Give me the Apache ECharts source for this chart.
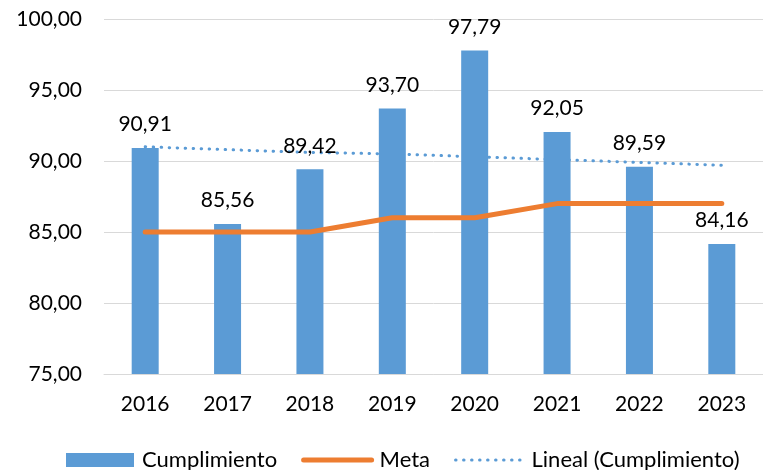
<!DOCTYPE html>
<html>
<head>
<meta charset="utf-8">
<script src="https://cdn.jsdelivr.net/npm/echarts@6/dist/echarts.min.js"></script>
<style>
  html, body { margin: 0; padding: 0; background: #fff; }
  #chart { width: 763px; height: 470px; }
</style>
</head>
<body>
<div id="chart"></div>
<script>
const years = ['2016', '2017', '2018', '2019', '2020', '2021', '2022', '2023'];
const cumplimiento = [90.91, 85.56, 89.42, 93.70, 97.79, 92.05, 89.59, 84.16];
const meta = [85, 85, 85, 86, 86, 87, 87, 87];
// linea de tendencia
const lineal = [91.0, 90.8, 90.6, 90.5, 90.3, 90.1, 89.9, 89.7];

const fmt = (v) => Number(v).toFixed(2).replace('.', ',');
const font = 'Lato, "Open Sans", sans-serif';

const chart = echarts.init(document.getElementById('chart'));
chart.setOption({
  animation: false,
  textStyle: { fontFamily: font },
  grid: { left: 104, top: 19, bottom: 96, width: 674 },
  legend: {
    left: 61,
    bottom: -6,
    itemWidth: 68,
    itemHeight: 14,
    itemGap: 24,
    textStyle: { fontSize: 22, color: '#000', fontFamily: font, padding: [0, 0, 0, 3] },
    data: [
      { name: 'Cumplimiento', icon: 'rect' },
      { name: 'Meta', itemStyle: { opacity: 0 }, lineStyle: { width: 5, cap: 'round' } },
      { name: 'Lineal (Cumplimiento)', itemStyle: { opacity: 0 }, lineStyle: { width: 3 } }
    ]
  },
  xAxis: {
    type: 'category',
    data: years,
    axisTick: { show: false },
    axisLine: { lineStyle: { color: '#d9d9d9', width: 1 } },
    axisLabel: { fontSize: 21, color: '#000', margin: 20 }
  },
  yAxis: {
    type: 'value',
    min: 75,
    max: 100,
    interval: 5,
    axisLabel: { fontSize: 21, color: '#000', margin: 22, formatter: fmt },
    splitLine: { lineStyle: { color: '#d9d9d9', width: 1 } }
  },
  series: [
    {
      name: 'Cumplimiento',
      type: 'bar',
      data: cumplimiento,
      barWidth: 27,
      itemStyle: { color: '#5b9bd5' },
      label: {
        show: true,
        position: 'top',
        distance: 13,
        fontSize: 21,
        color: '#000',
        formatter: (p) => fmt(p.value)
      },
      z: 2
    },
    {
      name: 'Meta',
      type: 'line',
      data: meta,
      symbol: 'none',
      lineStyle: { color: '#ed7d31', width: 5, cap: 'round' },
      itemStyle: { color: '#ed7d31' },
      z: 3
    },
    {
      name: 'Lineal (Cumplimiento)',
      type: 'line',
      data: lineal,
      symbol: 'none',
      lineStyle: { color: '#5b9bd5', width: 3, type: [0.5, 7.5], cap: 'round' },
      itemStyle: { color: '#5b9bd5' },
      z: 1
    }
  ]
});
</script>
</body>
</html>
